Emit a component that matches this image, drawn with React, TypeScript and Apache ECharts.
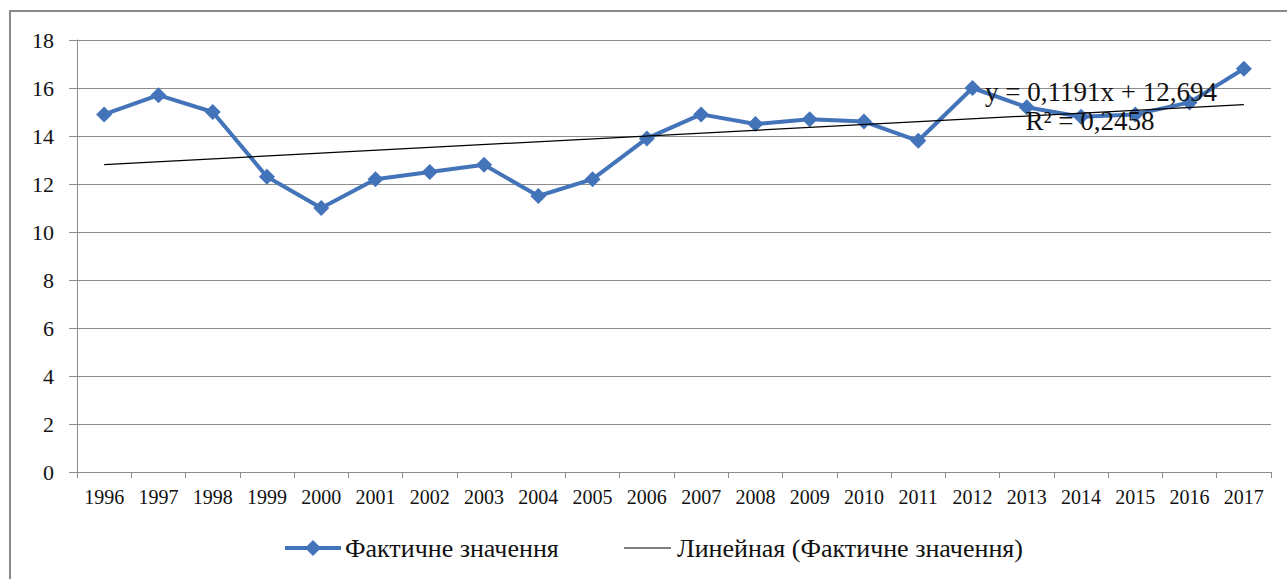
import React, { useEffect, useRef } from "react";
import * as echarts from "echarts";

const years = ["1996","1997","1998","1999","2000","2001","2002","2003","2004","2005","2006","2007","2008","2009","2010","2011","2012","2013","2014","2015","2016","2017"];
const actual = [14.9, 15.7, 15.0, 12.3, 11.0, 12.2, 12.5, 12.8, 11.5, 12.2, 13.9, 14.9, 14.5, 14.7, 14.6, 13.8, 16.0, 15.2, 14.8, 14.9, 15.4, 16.8];
const trendEnds = [12.81, 15.31];
const yTickValues = [0, 2, 4, 6, 8, 10, 12, 14, 16, 18];
const yTicks = { min: 0, max: 18, interval: 2 };
const equation = "y = 0,1191x + 12,694";
const rSquared = "R² = 0,2458";
const seriesNames = ["Фактичне значення", "Линейная (Фактичне значення)"];

const FONT = "Liberation Serif";
const BLUE = "#4373b9";

export default function App() {
  const ref = useRef<HTMLDivElement>(null);
  useEffect(() => {
    if (!ref.current) return;
    const chart = echarts.init(ref.current, null, { renderer: "svg" });
    const trend = years.map((_, i) => (i === 0 ? trendEnds[0] : i === years.length - 1 ? trendEnds[1] : null));
    chart.setOption({
      animation: false,
      backgroundColor: "#ffffff",
      grid: { left: 77, right: 16, top: 40, bottom: 107 },
      legend: { show: false, data: seriesNames },
      xAxis: {
        type: "category",
        data: years,
        boundaryGap: true,
        axisLine: { lineStyle: { color: "#8c8c8c", width: 1 } },
        axisTick: { show: true, length: 6, interval: 0, lineStyle: { color: "#8c8c8c" } },
        axisLabel: { show: false },
        splitLine: { show: false },
      },
      yAxis: {
        type: "value",
        min: yTicks.min,
        max: yTicks.max,
        interval: yTicks.interval,
        axisLine: { show: true, lineStyle: { color: "#8c8c8c", width: 1 } },
        axisTick: { show: true, length: 8, lineStyle: { color: "#8c8c8c" } },
        axisLabel: { show: false },
        splitLine: { show: true, lineStyle: { color: "#8c8c8c", width: 1 } },
      },
      series: [
        {
          name: seriesNames[0],
          type: "line",
          data: actual,
          symbol: "diamond",
          symbolSize: 16,
          lineStyle: { color: BLUE, width: 4 },
          itemStyle: { color: BLUE },
          z: 3,
        },
        {
          name: seriesNames[1],
          type: "line",
          data: trend,
          connectNulls: true,
          symbol: "none",
          lineStyle: { color: "#000", width: 1.2 },
          itemStyle: { color: "#000" },
          z: 4,
        },
      ],
    });

    const txt = (id: string, text: string, x: number, y: number, size: number, align: string) => ({
      type: "text",
      id,
      x,
      y,
      z: 10,
      silent: true,
      style: { text, fill: "#111", fontFamily: FONT, fontSize: size, align, verticalAlign: "middle" },
    });

    const graphics: any[] = [
      {
        type: "rect",
        id: "frame",
        shape: { x: 10, y: 11, width: 1400, height: 700 },
        style: { fill: "none", stroke: "#8a8a8a", lineWidth: 2 },
        silent: true,
        z: -1,
      },
      txt("eq", equation, 1101, 92, 27, "center"),
      txt("r2", rSquared, 1090, 121, 27, "center"),
    ];

    const xLabelY = chart.convertToPixel({ yAxisIndex: 0 }, 0) + 25;
    years.forEach((yr, i) => {
      const px = chart.convertToPixel({ xAxisIndex: 0 }, yr);
      graphics.push(txt("x" + i, yr, px, xLabelY, 20, "center"));
    });
    yTickValues.forEach((v, i) => {
      const py = chart.convertToPixel({ yAxisIndex: 0 }, v);
      graphics.push(txt("y" + i, String(v), 54, py, 22, "right"));
    });

    // legend
    const legY = 548;
    graphics.push({
      type: "line", id: "leg1line", z: 10, silent: true,
      shape: { x1: 285, y1: legY, x2: 341, y2: legY },
      style: { stroke: BLUE, lineWidth: 4 },
    });
    graphics.push({
      type: "polygon", id: "leg1dia", z: 11, silent: true,
      shape: { points: [[313, legY - 8], [321, legY], [313, legY + 8], [305, legY]] },
      style: { fill: BLUE },
    });
    graphics.push(txt("leg1t", seriesNames[0], 345, legY, 26, "left"));
    graphics.push({
      type: "line", id: "leg2line", z: 10, silent: true,
      shape: { x1: 624, y1: legY, x2: 671, y2: legY },
      style: { stroke: "#000", lineWidth: 1.2 },
    });
    graphics.push(txt("leg2t", seriesNames[1], 677, legY, 26, "left"));

    chart.setOption({ graphic: graphics });
    return () => chart.dispose();
  }, []);
  return <div ref={ref} style={{ position: "fixed", left: 0, top: 0, width: 1287, height: 579 }} />;
}
